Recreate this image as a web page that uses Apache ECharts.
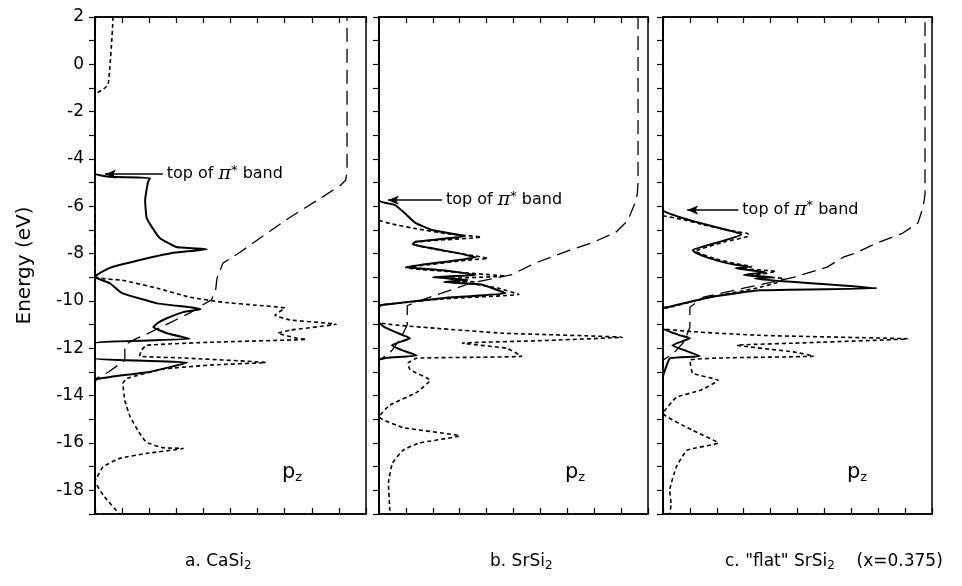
<!DOCTYPE html>
<html><head><meta charset="utf-8">
<script src="https://cdn.jsdelivr.net/npm/echarts@6/dist/echarts.min.js"></script>
<style>html,body{margin:0;padding:0;background:#fff}#c{width:962px;height:586px}</style>
</head><body><div id="c"></div><script>
// ---------- data: [DOS (arb. units), Energy (eV)] ----------
const yTickLabels = [2,0,-2,-4,-6,-8,-10,-12,-14,-16,-18];
const panelCaptions = ['a. CaSi{s|2}', 'b. SrSi{s|2}', 'c. "flat" SrSi{s|2}    (x=0.375)'];
const piTopE = [-4.64, -5.74, -6.16];          // energy of "top of pi* band"
const piArrowX = [[2.5, 0.37], [2.34, 0.33], [2.8, 0.9]];

const aSolid = [[0,2],[0,-4.6],[0.5,-4.75],[2.03,-4.8],[1.95,-5.0],[1.85,-5.74],[1.9,-6.46],[2.1,-6.88],[2.4,-7.35],[3.0,-7.72],[4.13,-7.81],[2.8,-7.98],[1.65,-8.27],[0.55,-8.6],[0.07,-8.9],[0,-9.0],[0.55,-9.25],[1.0,-9.67],[2.3,-10.1],[3.5,-10.26],[3.9,-10.35],[3.25,-10.47],[2.65,-10.73],[2.3,-10.94],[2.15,-11.1],[2.65,-11.36],[3.5,-11.6],[0,-11.78],[0,-12.42],[3.4,-12.6],[2.0,-13.0],[1.0,-13.14],[0.07,-13.3],[0,-13.4],[0,-19]];
const aShort = [[0.66,2],[0.66,1.87],[0.62,1.03],[0.55,-0.1],[0.48,-0.87],[0.26,-1.09],[0.07,-1.2],[0,-1.3],[0,-8.95],[1.0,-9.12],[2.3,-9.46],[3.5,-9.84],[4.7,-10.05],[5.96,-10.18],[7.0,-10.3],[6.64,-10.6],[7.2,-10.8],[8.9,-10.98],[7.2,-11.23],[6.75,-11.36],[7.45,-11.57],[7.8,-11.62],[4.35,-11.74],[1.9,-11.87],[1.7,-12.1],[1.65,-12.33],[3.1,-12.4],[6.3,-12.6],[4.35,-12.7],[2.5,-12.88],[1.18,-13.27],[1.03,-13.48],[1.1,-14.2],[1.3,-14.9],[1.65,-15.6],[1.9,-15.97],[2.5,-16.2],[3.25,-16.23],[1.9,-16.44],[0.92,-16.65],[0.3,-17.0],[0.07,-17.45],[0,-17.6],[0.3,-18.2],[0.9,-19]];
const aLong = [[0,-19],[0,-13.3],[0.5,-13.0],[1.1,-12.5],[1.1,-11.85],[1.5,-11.6],[1.9,-11.4],[2.8,-10.9],[3.5,-10.5],[4.0,-10.15],[4.3,-9.95],[4.45,-9.55],[4.5,-9.05],[4.72,-8.4],[5.35,-7.94],[5.98,-7.43],[7.2,-6.46],[8.4,-5.6],[9.05,-5.12],[9.25,-4.9],[9.3,-4.47],[9.3,2]];

const bSolid = [[0,2],[0,-5.74],[0.6,-5.95],[0.97,-6.3],[1.35,-6.7],[1.97,-7.0],[2.95,-7.2],[3.2,-7.26],[1.35,-7.5],[1.25,-7.6],[2.35,-7.85],[3.6,-8.15],[1.0,-8.57],[2.35,-8.7],[3.6,-8.9],[2.0,-9.0],[3.3,-9.1],[2.4,-9.2],[3.8,-9.3],[4.2,-9.45],[4.7,-9.67],[2.35,-9.88],[0.1,-10.17],[0,-10.2],[0,-10.9],[0.2,-11.1],[0.9,-11.45],[1.15,-11.57],[0.48,-11.87],[0.9,-12.1],[1.4,-12.3],[0.3,-12.4],[0,-12.5],[0,-19]];
const bShort = [[0,-6.6],[0.5,-6.75],[1.4,-6.95],[2.5,-7.15],[3.8,-7.3],[1.35,-7.5],[1.25,-7.6],[2.5,-7.9],[3.6,-8.1],[4.05,-8.2],[3.5,-8.25],[1.0,-8.6],[2.5,-8.75],[4.7,-8.95],[2.6,-9.05],[3.6,-9.2],[2.8,-9.15],[4.4,-9.45],[5.2,-9.72],[2.5,-9.9],[0.2,-10.15],[0,-10.25],[0,-10.9],[2.1,-11.15],[4.6,-11.36],[9.05,-11.53],[5.9,-11.68],[3.1,-11.78],[4.75,-12.0],[5.3,-12.33],[3.4,-12.38],[1.4,-12.42],[1.08,-12.63],[1.15,-12.9],[1.9,-13.35],[1.4,-13.86],[0.4,-14.4],[0,-14.9],[0.9,-15.35],[3.0,-15.7],[1.5,-16.0],[0.9,-16.3],[0.5,-16.85],[0.35,-17.7],[0.4,-18.85],[0.3,-19]];
const bLong = [[0,-19],[0,-12.5],[0.4,-12.2],[0.8,-11.6],[1.05,-11.0],[1.05,-10.2],[1.6,-9.95],[3.4,-9.25],[4.9,-8.9],[5.8,-8.4],[7.1,-7.85],[7.9,-7.55],[8.8,-7.1],[9.25,-6.6],[9.5,-5.9],[9.6,-5.5],[9.63,-5.0],[9.63,2]];

const cSolid = [[0,2],[0,-6.16],[0.63,-6.46],[1.37,-6.7],[2.38,-7.0],[2.85,-7.14],[2.9,-7.2],[2.1,-7.5],[1.1,-7.85],[1.2,-7.95],[1.75,-8.2],[2.38,-8.4],[2.6,-8.45],[3.2,-8.55],[2.7,-8.62],[3.8,-8.78],[3.0,-8.9],[4.1,-9.0],[3.4,-9.05],[4.3,-9.15],[5.5,-9.25],[7.95,-9.46],[3.6,-9.55],[1.75,-9.84],[0.15,-10.26],[0,-10.3],[0,-11.15],[0.63,-11.45],[1.0,-11.57],[0.35,-11.87],[1.37,-12.33],[0.26,-12.42],[0.05,-13.0],[0,-13.2],[0,-19]];
const cShort = [[0,-6.4],[0.7,-6.55],[1.5,-6.78],[2.5,-7.02],[3.15,-7.15],[3.2,-7.25],[2.3,-7.5],[1.2,-7.9],[1.9,-8.2],[2.6,-8.4],[3.3,-8.55],[2.9,-8.62],[4.2,-8.75],[3.3,-8.95],[4.5,-9.05],[4.3,-9.2],[3.5,-9.45],[1.75,-9.84],[0.3,-10.25],[0,-10.35],[0,-11.15],[3.6,-11.45],[9.1,-11.6],[4.9,-11.78],[2.75,-11.87],[4.85,-12.15],[5.6,-12.33],[2.4,-12.4],[1.0,-12.5],[1.1,-13.05],[2.05,-13.35],[1.4,-13.77],[0.5,-14.07],[0,-14.75],[1.1,-15.46],[2.05,-16.0],[0.9,-16.3],[0.5,-17.0],[0.25,-18.0],[0.3,-18.6],[0.25,-19]];
const cLong = [[0,-19],[0,-12.5],[0.4,-12.2],[0.8,-11.7],[1.0,-11.1],[1.0,-10.26],[1.5,-9.84],[3.0,-9.46],[4.85,-9.0],[6.1,-8.57],[6.7,-8.15],[7.1,-8.0],[7.95,-7.55],[8.9,-7.14],[9.48,-6.7],[9.67,-6.03],[9.74,-5.5],[9.74,2]];

const solids = [aSolid, bSolid, cSolid];
const shorts = [aShort, bShort, cShort];
const longs = [aLong, bLong, cLong];

// ---------- layout ----------
const FONT = 'DejaVu Sans';
const grids = [
  {left: 95, top: 17, width: 271, height: 497},
  {left: 379, top: 17, width: 269, height: 497},
  {left: 663, top: 17, width: 269, height: 497}
];
const captionPos = [[185, 553], [490, 553], [725, 553]];
const pzPos = [[282, 462], [565, 462], [847, 462]];

const option = {
  animation: false,
  backgroundColor: '#fff',
  grid: grids.map(g => Object.assign({show: true, borderColor: '#000', borderWidth: 1.5, backgroundColor: 'transparent'}, g)),
  xAxis: [],
  yAxis: [],
  series: [],
  graphic: []
};

for (let i = 0; i < 3; i++) {
  ['bottom', 'top'].forEach(pos => {
    option.xAxis.push({
      type: 'value', gridIndex: i, position: pos, min: 0, max: 10, interval: 1,
      axisLine: {show: true, onZero: false, lineStyle: {color: '#000', width: 1.5}},
      axisTick: {show: true, inside: true, length: 6, lineStyle: {color: '#000', width: 1.2}},
      axisLabel: {show: false}, splitLine: {show: false}
    });
  });
  option.yAxis.push({
    type: 'value', gridIndex: i, min: -19, max: 2, interval: 1,
    name: i === 0 ? 'Energy (eV)' : '',
    nameLocation: 'middle', nameGap: 60, nameRotate: 90,
    nameTextStyle: {fontFamily: FONT, fontSize: 20, color: '#000'},
    axisLine: {show: true, onZero: false, lineStyle: {color: '#000', width: 1.5}},
    axisTick: {show: true, inside: false, length: 6, lineStyle: {color: '#000', width: 1.2}},
    axisLabel: {
      show: i === 0, margin: 11, fontFamily: FONT, fontSize: 17, color: '#000',
      formatter: v => (yTickLabels.indexOf(v) >= 0 ? String(v) : '')
    },
    splitLine: {show: false}
  });
  const xi = i * 2;
  option.series.push({
    type: 'line', xAxisIndex: xi, yAxisIndex: i, data: longs[i], showSymbol: false, symbol: 'none',
    lineStyle: {color: '#000', width: 1.3, type: [14, 7]}, z: 2
  });
  option.series.push({
    type: 'line', xAxisIndex: xi, yAxisIndex: i, data: shorts[i], showSymbol: false, symbol: 'none',
    smooth: 0.12,
    lineStyle: {color: '#000', width: 1.6, type: [4, 3]}, z: 3
  });
  option.series.push({
    type: 'line', xAxisIndex: xi, yAxisIndex: i, data: solids[i], showSymbol: false, symbol: 'none',
    smooth: 0.12,
    lineStyle: {color: '#000', width: 2}, z: 4,
    markLine: {
      silent: true, animation: false,
      symbol: ['none', 'arrow'], symbolSize: [7, 11],
      lineStyle: {color: '#000', width: 1.5, type: 'solid'},
      label: {
        show: true, position: 'start', distance: 4, color: '#000',
        fontFamily: FONT, fontSize: 16,
        formatter: 'top of {pi|π}{sup|*} band',
        rich: {
          pi: {fontFamily: 'DejaVu Serif', fontStyle: 'italic', fontSize: 19, color: '#000'},
          sup: {fontSize: 13, color: '#000', verticalAlign: 'top', padding: [0, 0, 8, 0]}
        }
      },
      data: [[{coord: [piArrowX[i][0], piTopE[i]]}, {coord: [piArrowX[i][1], piTopE[i]]}]]
    }
  });
  option.graphic.push({
    type: 'text', left: captionPos[i][0], top: captionPos[i][1],
    style: {
      text: panelCaptions[i], fontFamily: FONT, fontSize: 17, fill: '#000',
      rich: {s: {fontSize: 12, fill: '#000', padding: [9, 0, 0, 0], fontFamily: FONT}}
    }
  });
  option.graphic.push({
    type: 'text', left: pzPos[i][0], top: pzPos[i][1],
    style: {
      text: 'p{z|z}', fontFamily: FONT, fontSize: 21, fill: '#000',
      rich: {z: {fontSize: 13, fill: '#000', padding: [11, 0, 0, 0], fontFamily: FONT}}
    }
  });
}

const chart = echarts.init(document.getElementById('c'), null, {renderer: 'canvas'});
chart.setOption(option);
</script></body></html>
